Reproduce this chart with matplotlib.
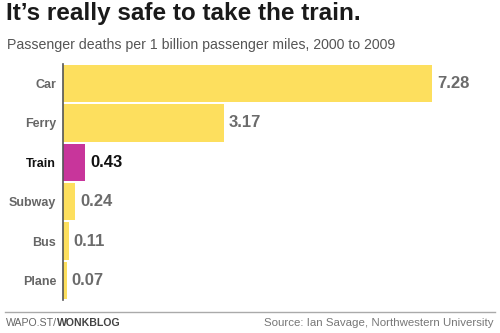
import matplotlib
matplotlib.use("Agg")
import matplotlib.pyplot as plt
from matplotlib.offsetbox import TextArea, HPacker, AnchoredOffsetbox

modes = ["Car", "Ferry", "Train", "Subway", "Bus", "Plane"]
deaths = [7.28, 3.17, 0.43, 0.24, 0.11, 0.07]
highlight = "Train"

yellow = "#fddf5e"
magenta = "#c8359b"
font = "Liberation Sans"

fig = plt.figure(figsize=(5, 3.33), dpi=100)
ax = fig.add_axes([0.126, 0.099, 0.854, 0.709])

colors = [magenta if m == highlight else yellow for m in modes]
ypos = list(range(len(modes)))
ax.barh(ypos, deaths, height=0.95, color=colors, zorder=2)

ax.set_ylim(len(modes) - 0.5, -0.5)
ax.set_xlim(0, 8.42)

for y, m, v in zip(ypos, modes, deaths):
    c = "#111111" if m == highlight else "#6b6b6b"
    ax.text(v + 0.1, y, f"{v:.2f}", va="center", ha="left", family=font,
            fontsize=12, fontweight="bold", color=c)

ax.set_yticks(ypos)
ax.set_yticklabels(modes, fontsize=9, fontweight="bold", family=font)
for lbl, m in zip(ax.get_yticklabels(), modes):
    lbl.set_color("#111111" if m == highlight else "#666666")
ax.tick_params(axis="y", length=0, pad=5)
ax.set_xticks([])

for s in ["top", "right", "bottom"]:
    ax.spines[s].set_visible(False)
ax.spines["left"].set_color("#555555")
ax.spines["left"].set_linewidth(1.2)
ax.spines["left"].set_zorder(3)

fig.text(0.012, 0.958, "It’s really safe to take the train.", fontsize=17.5,
         fontweight="bold", color="#1a1a1a", va="center", family=font)
fig.text(0.014, 0.865, "Passenger deaths per 1 billion passenger miles, 2000 to 2009",
         fontsize=10.2, color="#555555", va="center", family=font)

fig.add_artist(plt.Line2D([0.01, 0.99], [0.063, 0.063], color="#aaaaaa", lw=1))
foot = HPacker(children=[
    TextArea("WAPO.ST/", textprops=dict(fontsize=7.6, color="#666666", family=font)),
    TextArea("WONKBLOG", textprops=dict(fontsize=7.6, color="#444444", family=font,
                                       fontweight="bold")),
], pad=0, sep=0, align="baseline")
fig.add_artist(AnchoredOffsetbox(loc="center left", child=foot, frameon=False,
                                 bbox_to_anchor=(0.012, 0.03),
                                 bbox_transform=fig.transFigure, pad=0,
                                 borderpad=0))
fig.text(0.987, 0.03, "Source: Ian Savage, Northwestern University", fontsize=8.25,
         color="#777777", va="center", ha="right", family=font)

fig.savefig("out.png", dpi=100)
